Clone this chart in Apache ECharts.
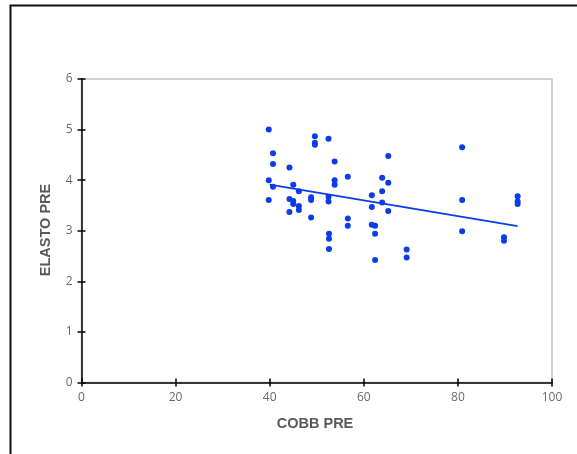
<!DOCTYPE html>
<html>
<head>
<meta charset="utf-8">
<script src="https://cdn.jsdelivr.net/npm/echarts@6/dist/echarts.min.js"></script>
<style>html,body{margin:0;padding:0;background:#fff}#c{width:577px;height:454px}</style>
</head>
<body>
<div id="c"></div>
<script>
const cobbPre = [39.8,40.7,40.7,39.8,40.7,39.8,44.2,45.0,44.2,45.0,45.0,46.2,46.2,46.2,44.2,48.8,48.8,48.8,49.6,49.6,49.6,52.5,53.8,53.8,53.8,52.5,52.5,52.6,52.6,52.6,56.6,56.6,56.6,65.2,63.9,65.2,63.9,61.7,63.9,61.7,65.2,61.7,62.4,62.4,62.4,69.1,69.1,80.9,80.9,80.9,89.8,89.8,92.7,92.7,92.7];
const elastoPre = [5.0,4.53,4.32,4.0,3.87,3.61,4.25,3.91,3.63,3.59,3.53,3.78,3.49,3.41,3.37,3.66,3.61,3.26,4.87,4.74,4.70,4.82,4.37,4.0,3.91,3.67,3.58,2.94,2.84,2.64,4.07,3.24,3.10,4.48,4.05,3.95,3.78,3.70,3.56,3.47,3.39,3.12,3.10,2.94,2.42,2.63,2.47,4.65,3.61,2.99,2.87,2.80,3.68,3.58,3.53];
const trendX = [40.0, 92.7];
const trendY = [3.91, 3.09];
const xTicks = [0,20,40,60,80,100];
const yTicks = [0,1,2,3,4,5,6];

const chart = echarts.init(document.getElementById('c'), null, {renderer:'canvas'});
const labelStyle = {color:'#6a6a6a', fontSize:12, fontFamily:'"Open Sans", "Liberation Sans", sans-serif'};
const blue = '#0a3de8';
chart.setOption({
  animation:false,
  backgroundColor:'#fff',
  grid:{left:81.5, right:25, top:79, bottom:71.5, show:true, borderColor:'#c4c4c4', borderWidth:1.5},
  xAxis:[{
    type:'value', min:xTicks[0], max:xTicks[xTicks.length-1], interval:20,
    axisLine:{show:true, onZero:false, lineStyle:{color:'#000', width:1.5}},
    axisTick:{show:true, inside:false, length:4, lineStyle:{color:'#000', width:1.5}},
    axisLabel:Object.assign({margin:9}, labelStyle),
    splitLine:{show:false}
  },{
    type:'value', position:'bottom', min:xTicks[0], max:xTicks[xTicks.length-1], interval:20,
    axisLine:{show:false}, axisLabel:{show:false}, splitLine:{show:false},
    axisTick:{show:true, inside:true, length:4, lineStyle:{color:'#000', width:1.5}}
  }],
  yAxis:[{
    type:'value', min:yTicks[0], max:yTicks[yTicks.length-1], interval:1,
    axisLine:{show:true, onZero:false, lineStyle:{color:'#000', width:1.5}},
    axisTick:{show:true, inside:false, length:4, lineStyle:{color:'#000', width:1.5}},
    axisLabel:Object.assign({margin:9}, labelStyle),
    splitLine:{show:false}
  },{
    type:'value', position:'left', min:yTicks[0], max:yTicks[yTicks.length-1], interval:1,
    axisLine:{show:false}, axisLabel:{show:false}, splitLine:{show:false},
    axisTick:{show:true, inside:true, length:4, lineStyle:{color:'#000', width:1.5}}
  }],
  graphic:[
    {type:'rect', shape:{x:10.5, y:5.5, width:800, height:800}, style:{fill:'none', stroke:'#111', lineWidth:2}, silent:true, z:-1},
    {type:'text', x:315, y:424, style:{text:'COBB PRE', fill:'#595959', font:'bold 14.5px "Liberation Sans", Arial, sans-serif', textAlign:'center', textVerticalAlign:'middle'}},
    {type:'text', x:46, y:230, rotation:Math.PI/2, style:{text:'ELASTO PRE', fill:'#595959', font:'bold 14.5px "Liberation Sans", Arial, sans-serif', textAlign:'center', textVerticalAlign:'middle'}}
  ],
  series:[{
    type:'scatter', symbol:'circle', symbolSize:6,
    itemStyle:{color:blue, opacity:1},
    data: cobbPre.map((x,i)=>[x, elastoPre[i]]), z:3
  },{
    type:'line', symbol:'none', lineStyle:{color:blue, width:1.8},
    data: trendX.map((x,i)=>[x, trendY[i]]), z:2
  }]
});
</script>
</body>
</html>
